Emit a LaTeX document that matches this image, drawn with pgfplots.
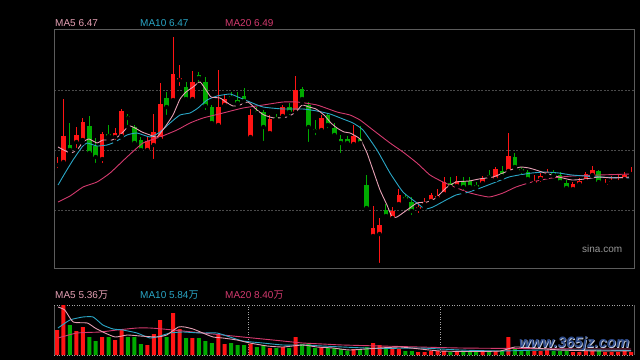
\documentclass[border=0pt]{standalone}
\usepackage{pgfplots}
\pgfplotsset{compat=1.18}
\usepackage{pgfplotstable}
\usepackage{fontspec}
\setmainfont{Liberation Sans}
\newfontfamily\cjk{Noto Sans CJK SC}
\definecolor{cred}{HTML}{FF1414}
\definecolor{cgreen}{HTML}{00AA00}
\definecolor{ma5}{HTML}{E6A0B4}
\definecolor{ma10}{HTML}{2AA6C6}
\definecolor{ma20}{HTML}{D33A6E}
\definecolor{bord}{HTML}{5C5C5C}
\definecolor{gridc}{HTML}{4A4A4A}
\definecolor{wm}{HTML}{2E4C8C}

\pgfplotstableread{
i o h l c v
0 6.55 6.63 6.50 6.56 25
1 6.58 7.21 6.56 6.84 50
3 6.78 6.93 6.70 6.85 24
4 6.80 7.02 6.77 6.98 28
7 6.61 6.88 6.55 6.86 18
9 6.83 6.92 6.78 6.87 15
10 6.84 7.11 6.83 7.09 26
14 6.70 6.83 6.69 6.79 10
15 6.75 7.06 6.59 6.88 21
16 6.81 7.37 6.78 7.16 35
18 7.20 7.83 7.18 7.46 42
19 7.40 7.55 7.32 7.42 26
21 7.21 7.49 7.18 7.38 17
25 6.95 7.50 6.93 7.13 20
26 7.15 7.25 7.13 7.21 11
30 6.83 7.11 6.82 7.05 11
33 6.87 7.05 6.86 7.01 7
35 7.04 7.15 7.03 7.13 8
37 7.08 7.44 7.07 7.30 18
41 6.90 7.05 6.87 7.02 8
46 6.76 6.95 6.75 6.84 6
49 5.84 6.14 5.83 5.92 12
50 5.86 6.02 5.55 5.95 10
52 6.02 6.13 5.99 6.09 6
53 6.16 6.31 6.15 6.25 6
56 6.11 6.18 6.05 6.13 3
57 6.16 6.22 6.12 6.18 3
58 6.19 6.27 6.18 6.25 4
59 6.22 6.31 6.20 6.24 4
60 6.26 6.43 6.25 6.38 4
62 6.34 6.44 6.33 6.39 3
66 6.37 6.44 6.36 6.42 4
68 6.41 6.53 6.40 6.51 4
70 6.49 6.87 6.47 6.64 18
74 6.37 6.45 6.36 6.39 4
75 6.41 6.47 6.36 6.44 4
76 6.45 6.51 6.43 6.48 5
80 6.31 6.38 6.30 6.36 3
81 6.36 6.42 6.32 6.39 3
82 6.39 6.48 6.38 6.46 4
83 6.45 6.54 6.44 6.50 4
85 6.35 6.41 6.35 6.36 3
86 6.38 6.44 6.38 6.39 3
87 6.38 6.45 6.37 6.39 3
88 6.41 6.48 6.39 6.45 4
89 6.46 6.53 6.43 6.47 3
}\redtab

\pgfplotstableread{
i o h l c v
2 6.75 6.97 6.67 6.70 30
5 6.94 7.04 6.66 6.67 18
6 6.74 6.82 6.55 6.63 14
8 6.86 6.95 6.80 6.84 18
11 7.04 7.06 6.93 7.02 18
12 6.93 6.95 6.75 6.77 18
13 6.80 6.83 6.66 6.70 11
17 7.22 7.28 7.03 7.13 18
20 7.33 7.38 7.17 7.21 17
22 7.45 7.48 7.35 7.42 17
23 7.38 7.43 7.08 7.14 14
24 7.13 7.15 6.94 6.97 12
27 7.24 7.28 7.18 7.22 12
28 7.20 7.28 7.15 7.17 10
29 7.24 7.32 7.15 7.19 10
31 7.09 7.13 7.05 7.07 8
32 7.08 7.10 6.77 6.93 10
34 7.03 7.06 6.98 7.01 7
36 7.13 7.17 7.03 7.08 7
38 7.31 7.33 7.17 7.21 11
39 7.15 7.18 6.76 6.93 12
40 6.91 7.00 6.83 6.89 7
42 7.05 7.07 6.90 6.95 7
43 6.92 6.97 6.83 6.85 7
44 6.81 6.85 6.65 6.77 6
45 6.81 6.84 6.74 6.77 4.5
47 6.81 6.94 6.76 6.77 6
48 6.35 6.45 6.11 6.12 8
51 6.10 6.16 6.03 6.04 8
54 6.23 6.26 6.17 6.21 4
55 6.18 6.23 6.03 6.09 4
61 6.37 6.43 6.31 6.33 3
63 6.39 6.43 6.27 6.33 4
64 6.39 6.43 6.31 6.33 4
65 6.35 6.38 6.31 6.33 3
67 6.45 6.50 6.39 6.43 4
69 6.49 6.54 6.42 6.44 4
71 6.63 6.67 6.52 6.53 7
72 6.51 6.53 6.43 6.49 5
73 6.48 6.50 6.38 6.41 5
77 6.48 6.50 6.44 6.45 4
78 6.45 6.48 6.37 6.38 4
79 6.37 6.40 6.31 6.32 4
84 6.49 6.50 6.37 6.38 5
}\greentab

\begin{document}
\begin{tikzpicture}
\fill[black] (0pt,0pt) rectangle (640pt,360pt);
% ---------------- price panel ----------------
\begin{axis}[
  at={(54pt,92pt)}, anchor=south west, scale only axis,
  width=580pt, height=239pt,
  xmin=-0.47, xmax=89.46, ymin=5.52, ymax=7.91,
  axis line style={draw=bord, line width=0.9pt},
  xtick=\empty, ytick={6.1,6.7,7.3}, yticklabels={}, major tick length=0pt,
  ymajorgrids, grid style={draw=gridc, dash pattern=on 2pt off 1.5pt, line width=0.9pt},
]
% wicks
\addplot[only marks, mark=none, forget plot, error bars/.cd, y dir=plus, y explicit, error mark=none,
  error bar style={draw=cgreen, line width=1pt}]
  table[x=i, y=l, y error plus expr=\thisrow{h}-\thisrow{l}] {\greentab};
\addplot[only marks, mark=none, forget plot, error bars/.cd, y dir=plus, y explicit, error mark=none,
  error bar style={draw=cred, line width=1pt}]
  table[x=i, y=l, y error plus expr=\thisrow{h}-\thisrow{l}] {\redtab};
% bodies
\addplot[only marks, mark=none, forget plot, error bars/.cd, y dir=plus, y explicit, error mark=none,
  error bar style={draw=cgreen, line width=4.6pt}]
  table[x=i, y=c, y error plus expr=\thisrow{o}-\thisrow{c}] {\greentab};
\addplot[only marks, mark=none, forget plot, error bars/.cd, y dir=plus, y explicit, error mark=none,
  error bar style={draw=cred, line width=4.6pt}]
  table[x=i, y=o, y error plus expr=\thisrow{c}-\thisrow{o}] {\redtab};
% moving averages
\addplot[ma20, line width=0.9pt, smooth, tension=0.3] coordinates {
(0.16,6.18)(2.02,6.24)(4.03,6.33)(6.20,6.38)(8.22,6.47)(10.85,6.63)(13.33,6.77)(15.97,6.83)(18.60,6.90)(20.62,6.97)(22.64,7.02)(25.74,7.07)(28.84,7.12)(31.94,7.15)(35.04,7.18)(37.21,7.18)(40.31,7.15)(43.41,7.08)(45.43,7.05)(46.98,7.00)(48.99,6.90)(51.63,6.77)(53.64,6.68)(55.81,6.57)(57.83,6.45)(59.84,6.38)(62.02,6.32)(64.03,6.27)(66.98,6.23)(69.15,6.27)(71.16,6.33)(73.64,6.38)(76.74,6.42)(79.84,6.44)(84.03,6.45)(89,6.46)};
\addplot[ma10, line width=0.9pt, smooth, tension=0.3] coordinates {
(0.16,6.35)(1.24,6.47)(2.48,6.60)(3.88,6.73)(4.65,6.77)(6.20,6.74)(7.75,6.75)(8.99,6.78)(10.85,6.85)(12.40,6.87)(14.42,6.83)(15.97,6.88)(17.52,6.97)(19.07,7.05)(20.62,7.07)(21.86,7.12)(23.26,7.20)(24.81,7.24)(26.82,7.26)(28.06,7.23)(29.92,7.18)(31.94,7.13)(35.04,7.11)(38.14,7.11)(40.31,7.09)(42.33,7.06)(44.34,7.01)(45.89,6.97)(47.44,6.90)(49.61,6.70)(51.63,6.47)(53.64,6.28)(55.81,6.17)(57.05,6.11)(58.29,6.13)(60.31,6.20)(61.86,6.25)(63.88,6.28)(66.05,6.33)(68.06,6.38)(70.08,6.43)(71.63,6.45)(73.64,6.47)(75.66,6.48)(77.83,6.47)(79.84,6.45)(84.03,6.43)(89,6.42)};
\addplot[ma5, line width=0.9pt, smooth, tension=0.3] coordinates {
(0.16,6.73)(2.02,6.67)(3.10,6.70)(4.03,6.78)(4.96,6.81)(6.20,6.77)(7.13,6.80)(8.53,6.80)(9.77,6.85)(11.16,6.94)(12.09,6.92)(13.18,6.88)(14.42,6.85)(15.50,6.83)(16.74,6.93)(17.98,7.05)(19.07,7.21)(20.00,7.28)(21.09,7.33)(22.17,7.38)(23.10,7.30)(23.88,7.23)(25.27,7.22)(26.20,7.18)(27.29,7.14)(28.37,7.15)(29.61,7.18)(31.00,7.10)(32.09,7.05)(33.64,7.02)(35.66,7.03)(37.05,7.08)(37.98,7.15)(39.07,7.13)(40.16,7.11)(41.40,7.05)(42.48,6.97)(43.41,6.92)(44.50,6.88)(45.43,6.87)(46.98,6.81)(48.06,6.67)(48.99,6.50)(50.08,6.30)(51.16,6.15)(51.94,6.03)(52.71,6.03)(54.26,6.10)(55.81,6.17)(57.36,6.18)(58.76,6.22)(60.31,6.32)(61.86,6.38)(63.88,6.39)(65.43,6.41)(67.60,6.43)(69.15,6.47)(70.70,6.51)(71.94,6.53)(73.18,6.52)(74.26,6.50)(75.66,6.47)(77.83,6.43)(79.84,6.40)(81.86,6.41)(84.03,6.43)(86.05,6.42)(89,6.43)};
\end{axis}
% ---------------- volume panel ----------------
\begin{axis}[
  at={(54pt,5pt)}, anchor=south west, scale only axis,
  width=580pt, height=50pt,
  xmin=-0.47, xmax=89.46, ymin=0, ymax=50,
  hide axis, clip=false,
]
\draw[bord, line width=0.9pt] (rel axis cs:0,0) -- (rel axis cs:0,1);
\draw[bord, line width=0.9pt] (rel axis cs:1,0) -- (rel axis cs:1,1);
\draw[gray!70, line width=0.8pt, dash pattern=on 1pt off 1.5pt] (rel axis cs:0,1) -- (rel axis cs:1,1);
\draw[gray!70, line width=0.8pt, dash pattern=on 1pt off 1.5pt] (rel axis cs:0,0) -- (rel axis cs:1,0);
\draw[gray!70, line width=0.8pt, dash pattern=on 1pt off 1.5pt] (axis cs:29.7,0) -- (axis cs:29.7,50);
\draw[gray!70, line width=0.8pt, dash pattern=on 1pt off 1.5pt] (axis cs:59.5,0) -- (axis cs:59.5,50);
\addplot[ybar, bar width=4pt, bar shift=0pt, fill=cred, draw=none, forget plot] table[x=i, y=v] {\redtab};
\addplot[ybar, bar width=4pt, bar shift=0pt, fill=cgreen, draw=none, forget plot] table[x=i, y=v] {\greentab};
\addplot[ma20, line width=0.9pt, smooth, tension=0.3] coordinates {
(0.15,17)(3.1,22)(6.7,23)(9.3,25)(12.4,27)(14.4,27)(16.4,26)(19.5,24)(22.6,22)(25.7,20)(28.8,18)(31.9,16)(35,14)(38.1,12)(41.2,11)(44.3,10)(53.2,8.5)(62.5,7)(71.5,6.5)(81.1,6)(89,6)};
\addplot[ma10, line width=0.9pt, smooth, tension=0.3] coordinates {
(0.15,27)(2,35)(4,38)(5.6,38)(7.1,30)(8.7,26)(10.2,25)(12.4,22)(14.4,17)(16,19)(17.5,22)(19.5,23)(22.2,22)(24.8,22)(26.8,18)(28.8,14)(31.9,12)(35,10)(38.1,10)(41.2,9)(44.3,8)(50,6.5)(56.3,7)(62.5,5)(68.7,4)(74.9,5)(81.1,5)(89,4.5)};
\addplot[ma5, line width=0.9pt, smooth, tension=0.3] coordinates {
(0.15,48)(1.2,45)(2.5,33)(4.7,32)(5.9,27)(7.1,23)(9,18)(10.9,20)(12.9,19)(15.5,18)(17,20)(18.8,28)(19.8,28)(21.1,26)(22.6,22)(24.2,18)(25.7,17)(27.9,15)(29.9,12)(32.6,9)(35,8)(38.1,10)(40.3,8)(42.8,7)(45.4,5)(50,7)(53.2,8)(56.3,6)(59.4,4)(64,3.5)(68.7,4)(71,8)(74,7)(78,5)(84,4)(89,4)};
\end{axis}
% ---------------- texts ----------------
\begin{scope}[every node/.style={anchor=west, inner sep=0pt, font=\fontsize{10}{12}\selectfont}]
\node[text=ma5]  at (55pt,337pt) {MA5 6.47};
\node[text=ma10] at (140pt,337pt) {MA10 6.47};
\node[text=ma20] at (225pt,337pt) {MA20 6.49};
\node[text=ma5]  at (55pt,65pt) {MA5 5.36{\cjk 万}};
\node[text=ma10] at (140pt,65pt) {MA10 5.84{\cjk 万}};
\node[text=ma20] at (225pt,65pt) {MA20 8.40{\cjk 万}};
\node[text=gray!80] at (582pt,111pt) {sina.com};
\end{scope}
\node[anchor=center, inner sep=0pt, text=white!75!wm, font=\bfseries\itshape\fontsize{15}{15}\selectfont] at (575pt,15.2pt) {www.365jz.com};
\node[anchor=center, inner sep=0pt, text=wm, font=\bfseries\itshape\fontsize{15}{15}\selectfont] at (574.3pt,16pt) {www.365jz.com};
\end{tikzpicture}
\end{document}
